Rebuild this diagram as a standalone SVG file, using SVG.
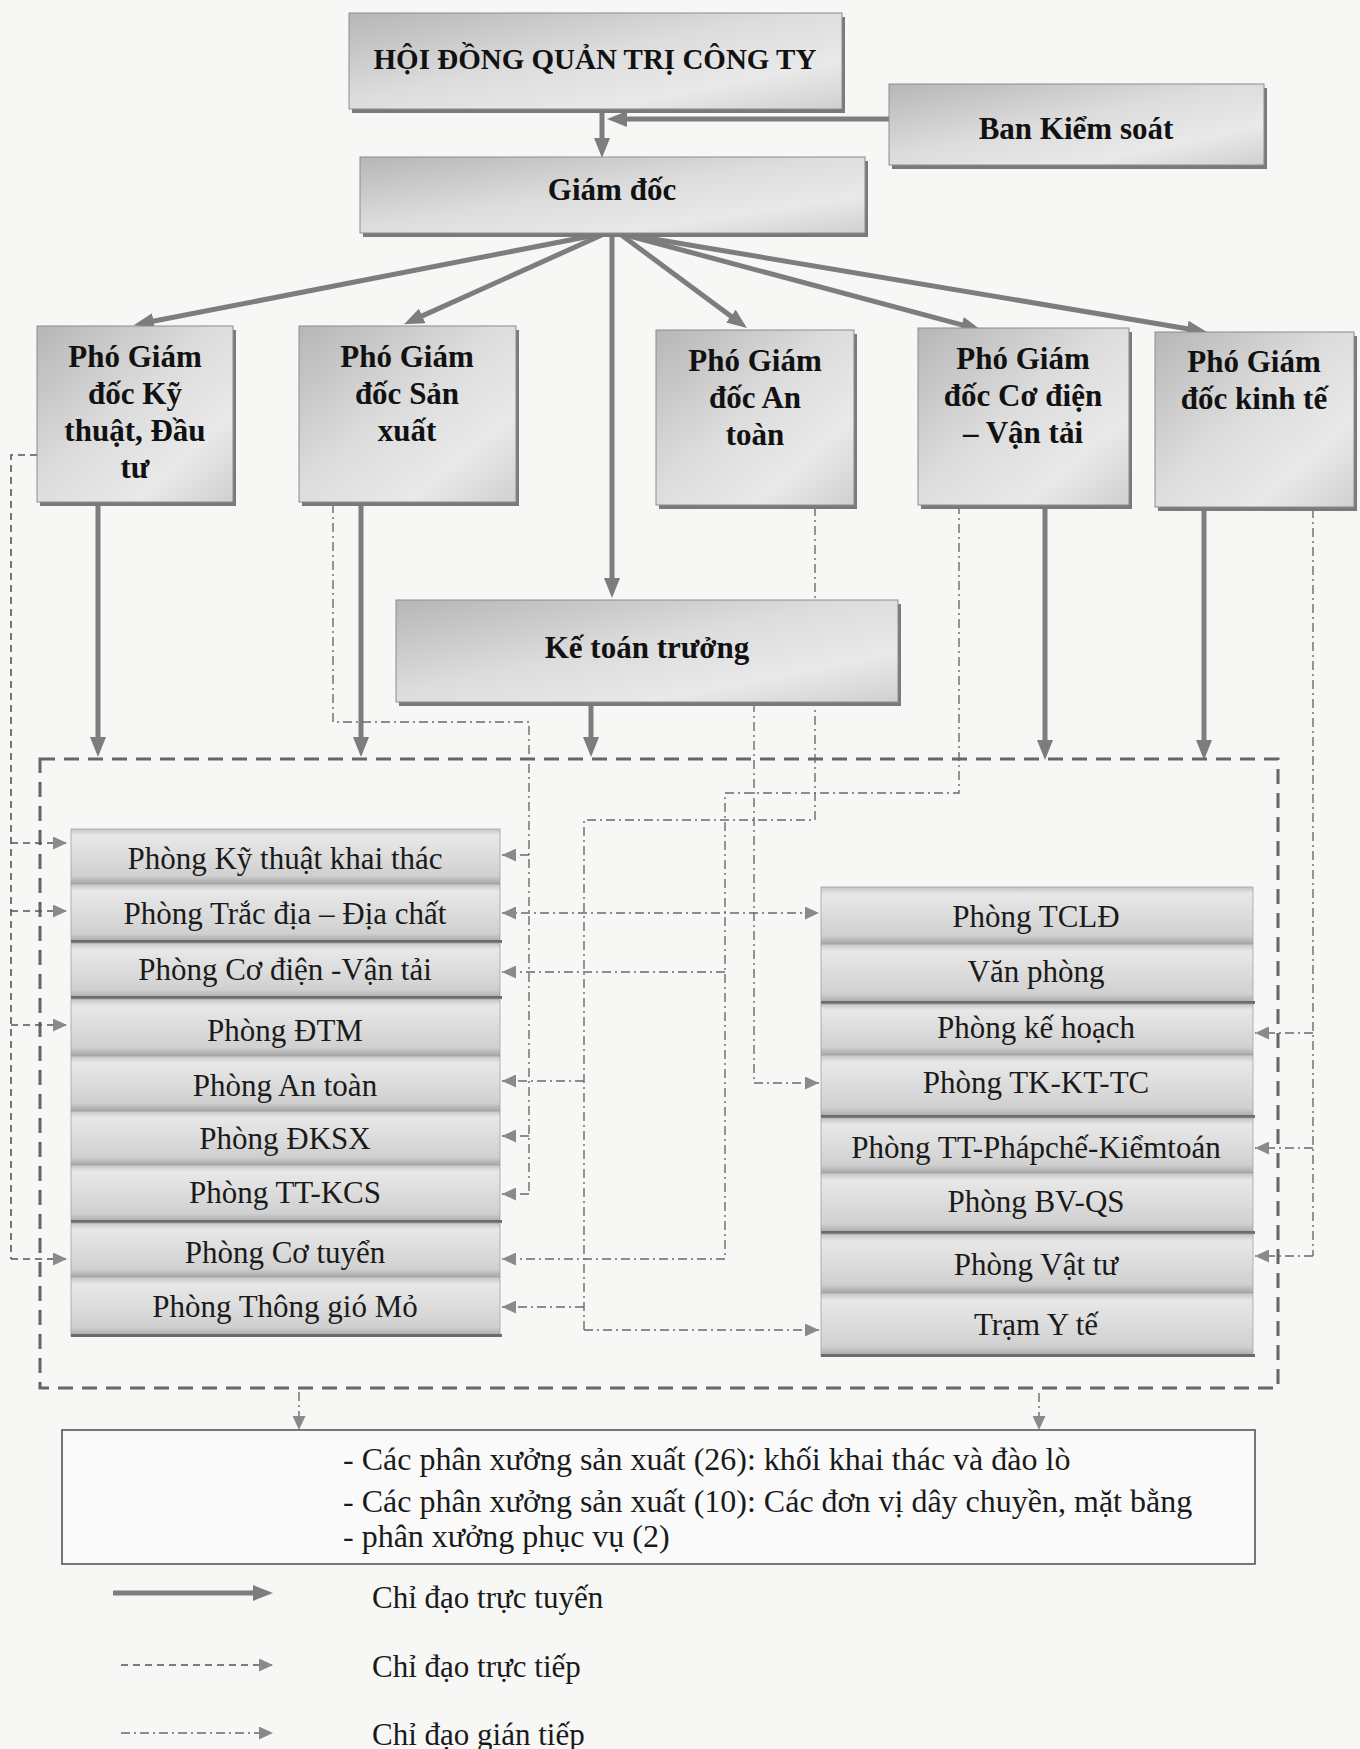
<svg xmlns="http://www.w3.org/2000/svg" width="1360" height="1749" viewBox="0 0 1360 1749">
<defs>
  <linearGradient id="gBox" x1="0" y1="0" x2="1" y2="1">
    <stop offset="0" stop-color="#b6b6b6"/>
    <stop offset="0.45" stop-color="#dcdcdc"/>
    <stop offset="0.75" stop-color="#e9e9e9"/>
    <stop offset="1" stop-color="#d0d0d0"/>
  </linearGradient>
  <linearGradient id="gRow" x1="0" y1="0" x2="0" y2="1">
    <stop offset="0" stop-color="#c4c4c4"/>
    <stop offset="0.12" stop-color="#e8e8e8"/>
    <stop offset="0.5" stop-color="#dcdcdc"/>
    <stop offset="0.85" stop-color="#d0d0d0"/>
    <stop offset="1" stop-color="#a6a6a6"/>
  </linearGradient>
  <marker id="aBig" viewBox="0 0 20 16" refX="6" refY="8" markerWidth="20" markerHeight="16" markerUnits="userSpaceOnUse" orient="auto">
    <path d="M0,0 L20,8 L0,16 z" fill="#7d7d7d"/>
  </marker>
  <marker id="aSmall" viewBox="0 0 14 13" refX="14" refY="6.5" markerWidth="14" markerHeight="13" markerUnits="userSpaceOnUse" orient="auto-start-reverse">
    <path d="M0,0 L14,6.5 L0,13 z" fill="#8a8a8a"/>
  </marker>
  <style>
    .solid{stroke:#7d7d7d;stroke-width:5;fill:none;marker-end:url(#aBig)}
    .direct{stroke:#555;stroke-width:1.6;stroke-dasharray:7 5;fill:none}
    .indirect{stroke:#6a6a6a;stroke-width:1.4;stroke-dasharray:9 4 2 4;fill:none}
    .arr{marker-end:url(#aSmall)}
    .bigdash{stroke:#666;stroke-width:3;stroke-dasharray:15 9;fill:none}
    .box{fill:url(#gBox);stroke:#8c8c8c;stroke-width:1}
    .shadow{fill:#7a7a7a}
    .row{fill:url(#gRow);stroke:#a2a2a2;stroke-width:0.8}
    .sep{fill:#6c6c6c}
    .tb{font-family:"Liberation Serif","Times New Roman",serif;font-weight:bold;font-size:31px;fill:#111;text-anchor:middle}
    .tr{font-family:"Liberation Serif","Times New Roman",serif;font-size:31px;fill:#1a1a1a;text-anchor:middle}
    .tl{font-family:"Liberation Serif","Times New Roman",serif;font-size:31px;fill:#1a1a1a}
    .tx{font-family:"Liberation Serif","Times New Roman",serif;font-size:32px;fill:#1a1a1a}
  </style>
</defs>
<rect x="0" y="0" width="1360" height="1749" fill="#f7f7f5"/>

<g id="connectors">
  <path class="solid" d="M602,109 V144"/>
  <path class="solid" d="M889,119 H621"/>
  <path class="solid" d="M601,234 L147.7,322.3"/>
  <path class="solid" d="M604,234 L416.8,318.4"/>
  <path class="solid" d="M612,234 V584"/>
  <path class="solid" d="M620,234 L735.7,319.7"/>
  <path class="solid" d="M622,234 L967.5,326.4"/>
  <path class="solid" d="M624,234 L1193.2,329.7"/>
  <path class="solid" d="M98,503 V743"/>
  <path class="solid" d="M361,503 V743"/>
  <path class="solid" d="M591,703 V743"/>
  <path class="solid" d="M1045,505 V746"/>
  <path class="solid" d="M1204,508 V746"/>

  <rect class="bigdash" x="40" y="759" width="1238" height="629"/>

  <path class="direct" d="M37,455 H11 V1259"/>
  <path class="direct arr" d="M11,843 H67"/>
  <path class="direct arr" d="M11,911 H67"/>
  <path class="direct arr" d="M11,1025 H67"/>
  <path class="direct arr" d="M11,1259 H67"/>

  <path class="indirect" d="M333,504 V722 H529 V1194"/>
  <path class="indirect arr" d="M529,855 H502"/>
  <path class="indirect arr" d="M529,1136 H502"/>
  <path class="indirect arr" d="M529,1194 H502"/>
  <path class="indirect" d="M502,913 H819" marker-start="url(#aSmall)" marker-end="url(#aSmall)"/>

  <path class="indirect" d="M815,507 V820 H584 V1330"/>
  <path class="indirect arr" d="M584,1081 H502"/>
  <path class="indirect arr" d="M584,1307 H502"/>
  <path class="indirect arr" d="M584,1330 H819"/>

  <path class="indirect" d="M959,505 V793 H725 V1259"/>
  <path class="indirect arr" d="M725,972 H502"/>
  <path class="indirect arr" d="M725,1259 H502"/>

  <path class="indirect arr" d="M754,703 V1083 H819"/>

  <path class="indirect" d="M1313,509 V1256"/>
  <path class="indirect arr" d="M1313,1033 H1255"/>
  <path class="indirect arr" d="M1313,1148 H1255"/>
  <path class="indirect arr" d="M1313,1256 H1255"/>

  <path class="indirect arr" d="M299,1392 V1430"/>
  <path class="indirect arr" d="M1039,1393 V1430"/>

  <path class="solid" d="M113,1593 H259"/>
  <path class="direct arr" d="M121,1665 H273"/>
  <path class="indirect arr" d="M121,1733 H273"/>
</g>

<g id="hdqt">
  <rect class="shadow" x="352" y="17" width="493" height="96"/>
  <rect class="box" x="349" y="13" width="493" height="96"/>
  <text class="tb" x="595" y="69" style="font-size:29px">HỘI ĐỒNG QUẢN TRỊ CÔNG TY</text>
</g>
<g id="ban-kiem-soat">
  <rect class="shadow" x="892" y="88" width="375" height="81"/>
  <rect class="box" x="889" y="84" width="375" height="81"/>
  <text class="tb" x="1076" y="139">Ban Kiểm soát</text>
</g>
<g id="giam-doc">
  <rect class="shadow" x="363" y="161" width="505" height="76"/>
  <rect class="box" x="360" y="157" width="505" height="76"/>
  <text class="tb" x="612" y="200">Giám đốc</text>
</g>

<g id="pgd-ky-thuat">
  <rect class="shadow" x="40" y="330" width="196" height="176"/>
  <rect class="box" x="37" y="326" width="196" height="176"/>
  <text class="tb" x="135" y="367">Phó Giám</text>
  <text class="tb" x="135" y="404">đốc Kỹ</text>
  <text class="tb" x="135" y="441">thuật, Đầu</text>
  <text class="tb" x="135" y="478">tư</text>
</g>
<g id="pgd-san-xuat">
  <rect class="shadow" x="302" y="330" width="217" height="176"/>
  <rect class="box" x="299" y="326" width="217" height="176"/>
  <text class="tb" x="407" y="367">Phó Giám</text>
  <text class="tb" x="407" y="404">đốc Sản</text>
  <text class="tb" x="407" y="441">xuất</text>
</g>
<g id="pgd-an-toan">
  <rect class="shadow" x="659" y="334" width="198" height="175"/>
  <rect class="box" x="656" y="330" width="198" height="175"/>
  <text class="tb" x="755" y="371">Phó Giám</text>
  <text class="tb" x="755" y="408">đốc An</text>
  <text class="tb" x="755" y="445">toàn</text>
</g>
<g id="pgd-co-dien">
  <rect class="shadow" x="921" y="332" width="211" height="177"/>
  <rect class="box" x="918" y="328" width="211" height="177"/>
  <text class="tb" x="1023" y="369">Phó Giám</text>
  <text class="tb" x="1023" y="406">đốc Cơ điện</text>
  <text class="tb" x="1023" y="443">– Vận tải</text>
</g>
<g id="pgd-kinh-te">
  <rect class="shadow" x="1158" y="336" width="199" height="175"/>
  <rect class="box" x="1155" y="332" width="199" height="175"/>
  <text class="tb" x="1254" y="372">Phó Giám</text>
  <text class="tb" x="1254" y="409">đốc kinh tế</text>
</g>

<g id="ke-toan-truong">
  <rect class="shadow" x="399" y="604" width="502" height="102"/>
  <rect class="box" x="396" y="600" width="502" height="102"/>
  <text class="tb" x="647" y="658">Kế toán trưởng</text>
</g>

<g id="phong-ky-thuat-khai-thac"><rect class="row" x="71" y="829" width="429" height="55"/><text class="tr" x="285" y="869">Phòng Kỹ thuật khai thác</text></g>
<g id="phong-trac-dia"><rect class="row" x="71" y="884" width="429" height="58"/><text class="tr" x="285" y="924">Phòng Trắc địa – Địa chất</text><rect class="sep" x="71" y="940" width="431" height="3"/></g>
<g id="phong-co-dien"><rect class="row" x="71" y="943" width="429" height="55"/><text class="tr" x="285" y="980">Phòng Cơ điện -Vận tải</text><rect class="sep" x="71" y="996" width="431" height="3"/></g>
<g id="phong-dtm"><rect class="row" x="71" y="999" width="429" height="57"/><text class="tr" x="285" y="1041">Phòng ĐTM</text></g>
<g id="phong-an-toan"><rect class="row" x="71" y="1056" width="429" height="55"/><text class="tr" x="285" y="1096">Phòng An toàn</text></g>
<g id="phong-dksx"><rect class="row" x="71" y="1111" width="429" height="54"/><text class="tr" x="285" y="1149">Phòng ĐKSX</text></g>
<g id="phong-tt-kcs"><rect class="row" x="71" y="1165" width="429" height="57"/><text class="tr" x="285" y="1203">Phòng TT-KCS</text><rect class="sep" x="71" y="1220" width="431" height="3"/></g>
<g id="phong-co-tuyen"><rect class="row" x="71" y="1223" width="429" height="54"/><text class="tr" x="285" y="1263">Phòng Cơ tuyển</text></g>
<g id="phong-thong-gio-mo"><rect class="row" x="71" y="1277" width="429" height="59"/><text class="tr" x="285" y="1317">Phòng Thông gió Mỏ</text><rect class="sep" x="71" y="1334" width="431" height="3"/></g>

<g id="phong-tcld"><rect class="row" x="821" y="887" width="432" height="57"/><text class="tr" x="1036" y="927">Phòng TCLĐ</text></g>
<g id="van-phong"><rect class="row" x="821" y="944" width="432" height="59"/><text class="tr" x="1036" y="982">Văn phòng</text><rect class="sep" x="821" y="1001" width="434" height="3"/></g>
<g id="phong-ke-hoach"><rect class="row" x="821" y="1004" width="432" height="51"/><text class="tr" x="1036" y="1038">Phòng kế hoạch</text></g>
<g id="phong-tk-kt-tc"><rect class="row" x="821" y="1055" width="432" height="62"/><text class="tr" x="1036" y="1093">Phòng TK-KT-TC</text><rect class="sep" x="821" y="1115" width="434" height="3"/></g>
<g id="phong-tt-phap-che"><rect class="row" x="821" y="1118" width="432" height="55"/><text class="tr" x="1036" y="1158">Phòng TT-Phápchế-Kiểmtoán</text></g>
<g id="phong-bv-qs"><rect class="row" x="821" y="1173" width="432" height="60"/><text class="tr" x="1036" y="1212">Phòng BV-QS</text><rect class="sep" x="821" y="1231" width="434" height="3"/></g>
<g id="phong-vat-tu"><rect class="row" x="821" y="1234" width="432" height="59"/><text class="tr" x="1036" y="1275">Phòng Vật tư</text></g>
<g id="tram-y-te"><rect class="row" x="821" y="1293" width="432" height="63"/><text class="tr" x="1036" y="1335">Trạm Y tế</text><rect class="sep" x="821" y="1354" width="434" height="3"/></g>

<g id="phan-xuong">
  <rect x="62" y="1430" width="1193" height="134" fill="#fafafa" stroke="#555" stroke-width="1.6"/>
  <text class="tx" x="343" y="1470">- Các phân xưởng sản xuất (26): khối khai thác và đào lò</text>
  <text class="tx" x="343" y="1512">- Các phân xưởng sản xuất (10): Các đơn vị dây chuyền, mặt bằng</text>
  <text class="tx" x="343" y="1547">- phân xưởng phục vụ (2)</text>
</g>

<g id="legend">
  <text class="tl" x="372" y="1608">Chỉ đạo trực tuyến</text>
  <text class="tl" x="372" y="1677">Chỉ đạo trực tiếp</text>
  <text class="tl" x="372" y="1745">Chỉ đạo gián tiếp</text>
</g>
</svg>
